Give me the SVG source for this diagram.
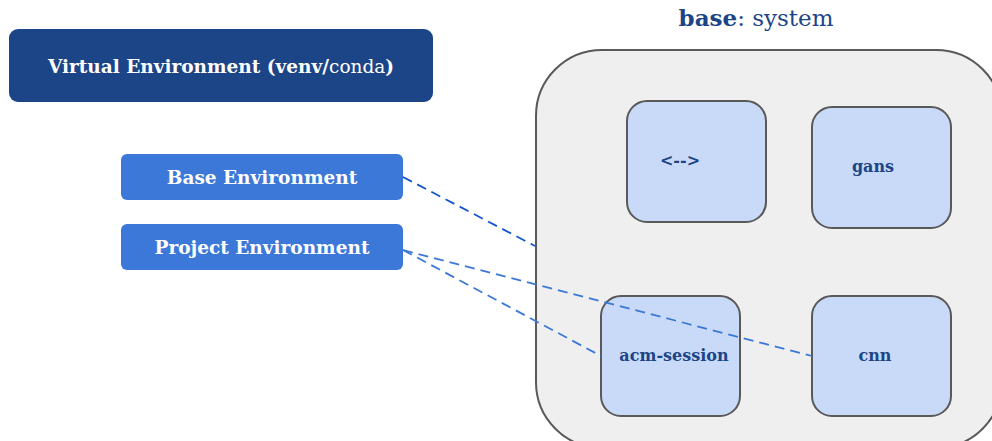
<svg xmlns="http://www.w3.org/2000/svg" width="992" height="441" viewBox="0 0 992 441">
<style>
text{font-family:"DejaVu Serif","Liberation Serif",serif;}
.lbl{fill:#ffffff;font-weight:bold;font-size:18.5px;text-anchor:middle;}
.inner{fill:#c9daf8;stroke:#595959;stroke-width:2;}
.itext{fill:#1c4587;font-weight:bold;font-size:16px;text-anchor:middle;}
.dash{fill:none;stroke-width:1.8;stroke-dasharray:10 6;}
</style>
<rect x="0" y="0" width="992" height="441" fill="#ffffff"/>
<g id="venv">
<rect x="9" y="29" width="424" height="73" rx="9" fill="#1c4587"/>
<text class="lbl" x="221" y="73">Virtual Environment (venv/<tspan font-weight="normal">conda</tspan>)</text>
</g>
<g id="base-env">
<rect x="121" y="154" width="282" height="46" rx="6" fill="#3c78d8"/>
<text class="lbl" x="262" y="184">Base Environment</text>
</g>
<g id="project-env">
<rect x="121" y="224" width="282" height="46" rx="6" fill="#3c78d8"/>
<text class="lbl" x="262" y="254">Project Environment</text>
</g>
<g id="system">
<text x="756" y="26" font-size="23" fill="#1c4587" text-anchor="middle"><tspan font-weight="bold">base</tspan>: system</text>
<rect x="536" y="50" width="466" height="398" rx="66" fill="#efefef" stroke="#595959" stroke-width="2"/>
</g>
<g id="node-arrow">
<rect class="inner" x="627" y="101" width="139" height="121" rx="20"/>
<text class="itext" x="680" y="166" font-size="12.5">&lt;--&gt;</text>
</g>
<g id="node-gans">
<rect class="inner" x="812" y="107" width="139" height="121" rx="20"/>
<text class="itext" x="873" y="172">gans</text>
</g>
<g id="node-acm">
<rect class="inner" x="601" y="296" width="139" height="120" rx="20"/>
<text class="itext" x="674" y="361">acm-session</text>
</g>
<g id="node-cnn">
<rect class="inner" x="812" y="296" width="139" height="120" rx="20"/>
<text class="itext" x="875" y="361">cnn</text>
</g>
<g id="connectors">
<path class="dash" stroke="#1155cc" d="M403 177 L535 246"/>
<path class="dash" stroke="#3c78d8" d="M403 250 L601 356"/>
<path class="dash" stroke="#3c78d8" d="M403 250 L812 356"/>
</g>
</svg>
